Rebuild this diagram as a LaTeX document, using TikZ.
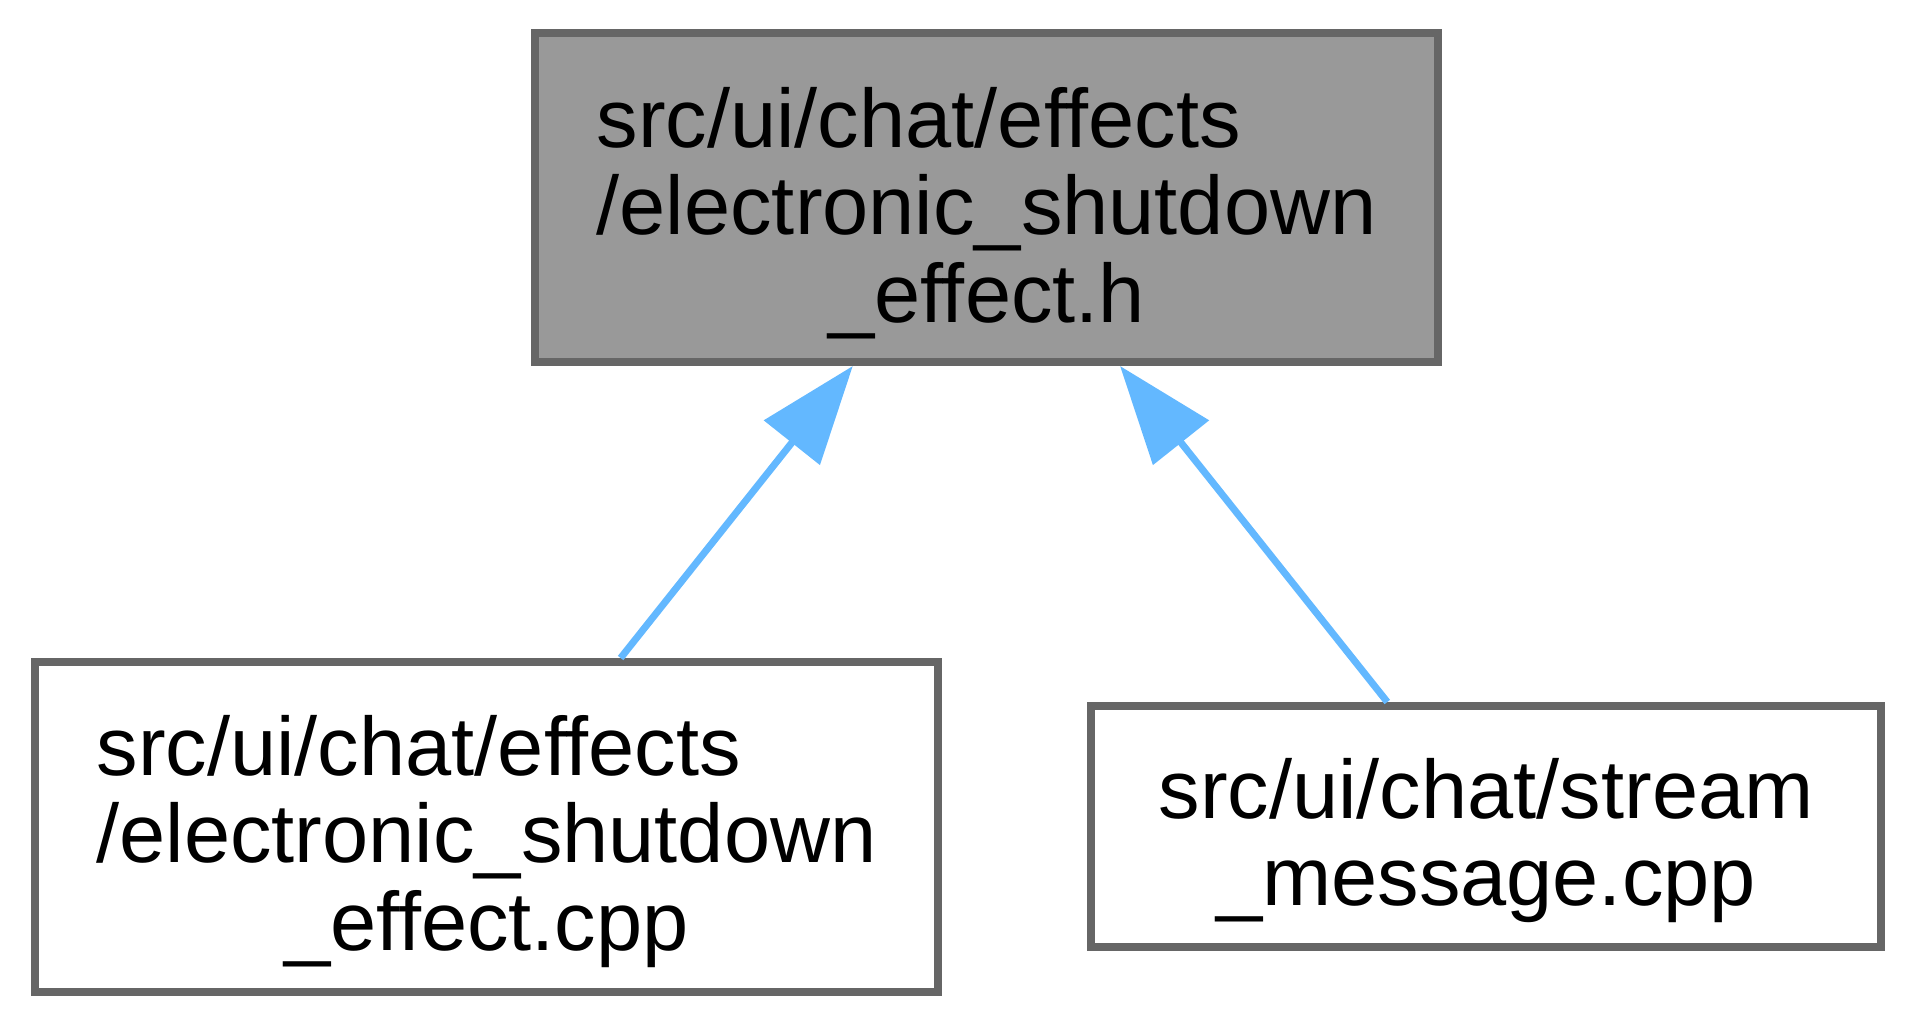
\documentclass[tikz,border=0pt]{standalone}
\usepackage{fontspec}
\setmainfont{Liberation Sans}
\usetikzlibrary{positioning,arrows.meta}
\definecolor{edgeblue}{HTML}{63B8FF}
\definecolor{boxline}{HTML}{666666}
\definecolor{boxfill}{HTML}{999999}

\begin{document}
\begin{tikzpicture}[x=0.5pt, y=-0.5pt,
  every node/.style={font=\fontsize{41.5}{43.75}\selectfont, inner sep=0pt},
  filebox/.style={draw=boxline, line width=4pt, fill=white, minimum width=451.5pt},
  edge/.style={draw=edgeblue, line width=3.5pt, -{Triangle[length=49pt, width=35pt]}}]
\useasboundingbox (0,0) rectangle (1917,1025);

\node[filebox, fill=boxfill, text height=57pt, text depth=107.5pt] (top) at (986.5,197.5)
  {\begin{tabular}[t]{@{}l@{}}src/ui/chat/effects\\/electronic\_shutdown\\\multicolumn{1}{@{}c@{}}{\_effect.h}\end{tabular}};

\node[filebox, text height=56.5pt, text depth=108.5pt, below=146pt of top, xshift=-250pt] (effcpp)
  {\begin{tabular}[t]{@{}l@{}}src/ui/chat/effects\\/electronic\_shutdown\\\multicolumn{1}{@{}c@{}}{\_effect.cpp}\end{tabular}};
\node[filebox, minimum width=395pt, text height=56pt, text depth=64.5pt, below=168pt of top, xshift=249.75pt] (streamcpp)
  {\begin{tabular}[t]{@{}l@{}}src/ui/chat/stream\\\multicolumn{1}{@{}c@{}}{\_message.cpp}\end{tabular}};

\draw[edge] (effcpp) -- (top);
\draw[edge] (streamcpp) -- (top);
\end{tikzpicture}
\end{document}
